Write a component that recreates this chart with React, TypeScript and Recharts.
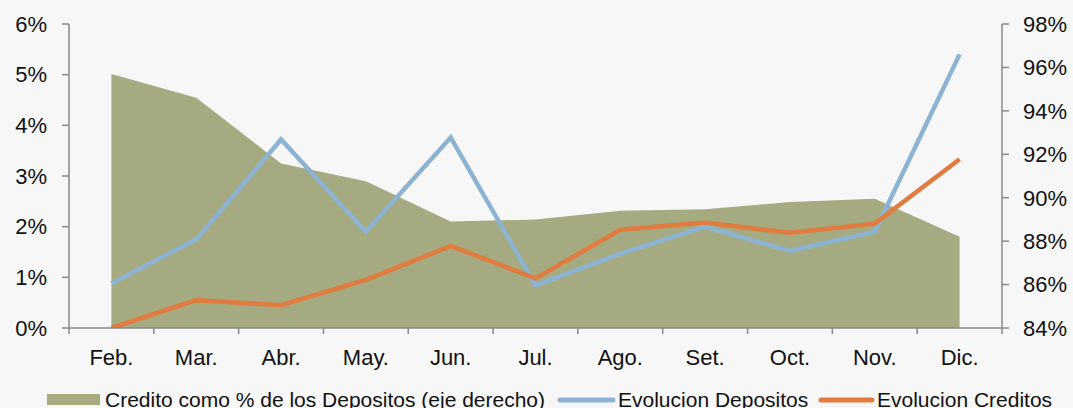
import React from 'react';
import { ComposedChart, Area, Line, XAxis, YAxis, Legend } from 'recharts';

const meses = ['Feb.', 'Mar.', 'Abr.', 'May.', 'Jun.', 'Jul.', 'Ago.', 'Set.', 'Oct.', 'Nov.', 'Dic.'];
const creditoSobreDepositos = [95.7, 94.6, 91.58, 90.76, 88.9, 89.0, 89.4, 89.47, 89.8, 89.95, 88.2];
const evolucionDepositos = [0.88, 1.75, 3.72, 1.9, 3.76, 0.84, 1.47, 2.0, 1.52, 1.9, 5.4];
const evolucionCreditos = [0.0, 0.55, 0.45, 0.95, 1.62, 0.98, 1.94, 2.08, 1.88, 2.06, 3.33];
const ticksIzq = [0, 1, 2, 3, 4, 5, 6];
const ticksDer = [84, 86, 88, 90, 92, 94, 96, 98];

const data = meses.map((m, i) => ({
  mes: m,
  ratio: creditoSobreDepositos[i],
  dep: evolucionDepositos[i],
  cred: evolucionCreditos[i],
}));

const W = 1073;
const H = 408;
const LEFT_W = 69;
const RIGHT_W = 71;
const BAND = (W - LEFT_W - RIGHT_W) / meses.length;
const AXIS_COLOR = '#8a8a8a';
const GREEN = '#a5aa80';
const BLUE = '#8db3d3';
const ORANGE = '#e07c3f';
const FONT = '"Liberation Sans", Arial, sans-serif';

const XTick = (props: any) => {
  const { x, y, payload, index } = props;
  const axisY = y - 21;
  const half = BAND / 2;
  return (
    <g>
      <line x1={x - half} x2={x - half} y1={axisY} y2={axisY + 6} stroke={AXIS_COLOR} strokeWidth={1.5} />
      {index === meses.length - 1 && (
        <line x1={x + half} x2={x + half} y1={axisY} y2={axisY + 6} stroke={AXIS_COLOR} strokeWidth={1.5} />
      )}
      <text x={x} y={y} dy="0.71em" textAnchor="middle" fontSize={22} fill="#111" fontFamily={FONT}>
        {payload.value}
      </text>
    </g>
  );
};

const LegendContent = () => (
  <svg width={W} height={30} style={{ display: 'block' }}>
    <rect x={47} y={16} width={53} height={11} fill={GREEN} />
    <text x={105} y={28.5} fontSize={21} fill="#111" fontFamily={FONT}>
      Credito como % de los Depositos (eje derecho)
    </text>
    <line x1={560} x2={613} y1={22} y2={22} stroke={BLUE} strokeWidth={5} strokeLinecap="round" />
    <text x={618} y={28.5} fontSize={21} fill="#111" fontFamily={FONT}>
      Evolucion Depositos
    </text>
    <line x1={821} x2={872} y1={22} y2={22} stroke={ORANGE} strokeWidth={5} strokeLinecap="round" />
    <text x={877} y={28.5} fontSize={21} fill="#111" fontFamily={FONT}>
      Evolucion Creditos
    </text>
  </svg>
);

export default function App() {
  return (
    <div style={{ position: 'absolute', left: 0, top: 0, width: W, height: H, background: '#f7f7f7', fontFamily: FONT }}>
      <ComposedChart width={W} height={H} data={data} margin={{ top: 24, right: 0, bottom: 0, left: 0 }}>
        <XAxis
          dataKey="mes"
          scale="band"
          height={50}
          tickSize={6}
          tickMargin={15}
          tickLine={false}
          tick={<XTick />}
          axisLine={{ stroke: AXIS_COLOR, strokeWidth: 1.5 }}
          interval={0}
        />
        <YAxis
          yAxisId="left"
          orientation="left"
          width={LEFT_W}
          domain={[0, 6]}
          ticks={ticksIzq}
          tickFormatter={(v: number) => `${v}%`}
          tickSize={7}
          tickMargin={15}
          tick={{ fontSize: 22, fill: '#111', fontFamily: FONT }}
          tickLine={{ stroke: AXIS_COLOR, strokeWidth: 1.5 }}
          axisLine={{ stroke: AXIS_COLOR, strokeWidth: 1.5 }}
          allowDataOverflow
        />
        <YAxis
          yAxisId="right"
          orientation="right"
          width={RIGHT_W}
          domain={[84, 98]}
          ticks={ticksDer}
          tickFormatter={(v: number) => `${v}%`}
          tickSize={7}
          tickMargin={14}
          tick={{ fontSize: 22, fill: '#111', fontFamily: FONT }}
          tickLine={{ stroke: AXIS_COLOR, strokeWidth: 1.5 }}
          axisLine={{ stroke: AXIS_COLOR, strokeWidth: 1.5 }}
          allowDataOverflow
        />
        <Area
          yAxisId="right"
          type="linear"
          dataKey="ratio"
          fill={GREEN}
          fillOpacity={1}
          stroke="none"
          isAnimationActive={false}
        />
        <Line
          yAxisId="left"
          type="linear"
          dataKey="dep"
          stroke={BLUE}
          strokeWidth={4.5}
          dot={false}
          isAnimationActive={false}
        />
        <Line
          yAxisId="left"
          type="linear"
          dataKey="cred"
          stroke={ORANGE}
          strokeWidth={4.5}
          dot={false}
          isAnimationActive={false}
        />
        <Legend verticalAlign="bottom" height={30} content={<LegendContent />} wrapperStyle={{ left: 0, bottom: 0 }} />
      </ComposedChart>
    </div>
  );
}
